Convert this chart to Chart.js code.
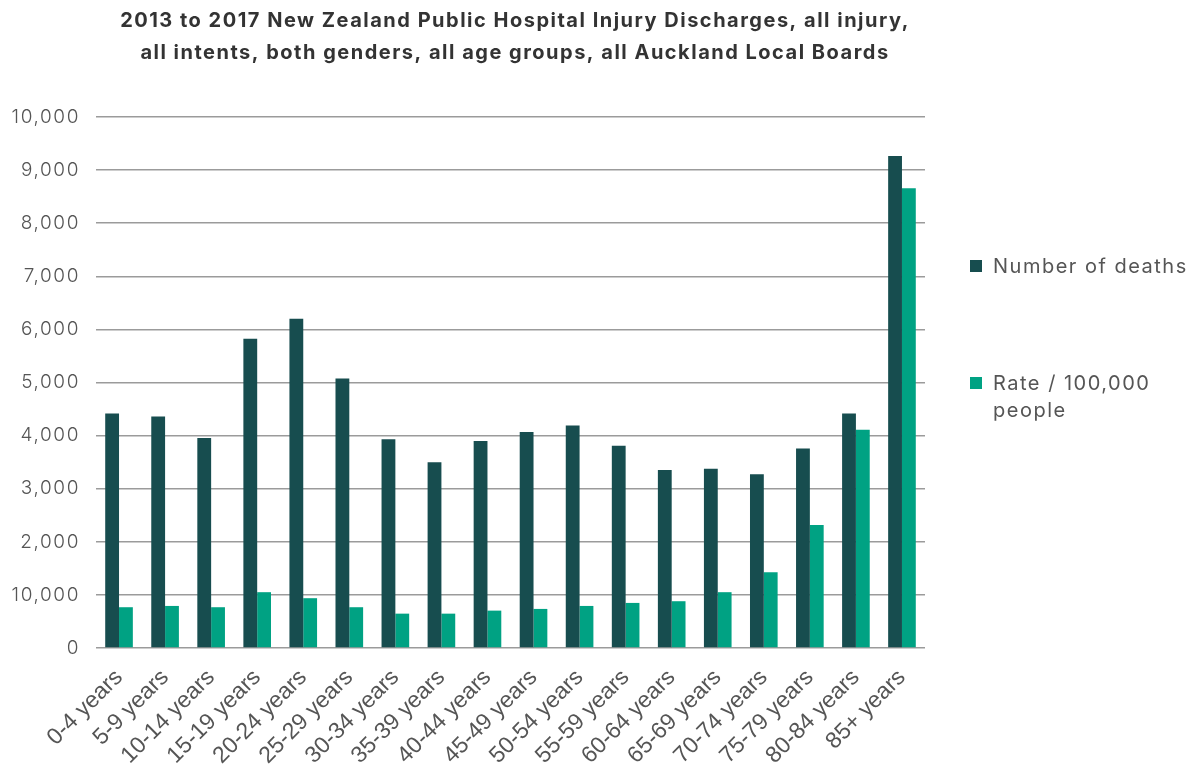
<!DOCTYPE html>
<html><head><meta charset="utf-8">
<script src="https://cdn.jsdelivr.net/npm/chart.js@4/dist/chart.umd.min.js"></script>
<style>html,body{margin:0;padding:0;background:#fff}#wrap{width:1204px;height:769px;position:relative}</style>
</head><body><div id="wrap"><canvas id="c" width="1204" height="769"></canvas></div>
<script>
const categories = ['0-4 years','5-9 years','10-14 years','15-19 years','20-24 years','25-29 years','30-34 years','35-39 years','40-44 years','45-49 years','50-54 years','55-59 years','60-64 years','65-69 years','70-74 years','75-79 years','80-84 years','85+ years'];
const deaths = [4415,4358,3957,5825,6202,5075,3930,3496,3900,4070,4189,3811,3353,3377,3270,3755,4415,9264];
const rates = [768,792,768,1051,938,768,647,647,704,736,792,849,881,1051,1428,2315,4108,8660];
const yTickLabels = ['0','10,000','2,000','3,000','4,000','5,000','6,000','7,000','8,000','9,000','10,000'];
const seriesNames = ['Number of deaths', 'Rate / 100,000 people'];
const legendLines = [['Number of deaths'], ['Rate / 100,000','people']];
const titleLines = ['2013 to 2017 New Zealand Public Hospital Injury Discharges, all injury,', 'all intents, both genders, all age groups, all Auckland Local Boards'];
const colors = ['#174d4f', '#00a283'];

const customText = {
  id: 'customText',
  afterDraw(chart) {
    const ctx = chart.ctx;
    ctx.save();
    ctx.fillStyle = '#333333';
    ctx.font = '700 20px Inter';
    ctx.letterSpacing = '1.5px';
    ctx.textAlign = 'center';
    ctx.textBaseline = 'middle';
    ctx.fillText(titleLines[0], 515, 21);
    ctx.fillText(titleLines[1], 515, 53);
    // legend
    const ys = [266, 383];
    ctx.textAlign = 'left';
    ctx.font = '400 20px Inter';
    ctx.letterSpacing = '1.5px';
    chart.data.datasets.forEach((ds, i) => {
      ctx.fillStyle = ds.backgroundColor;
      ctx.fillRect(970, ys[i] - 6, 12, 12);
      ctx.fillStyle = '#555555';
      legendLines[i].forEach((t, j) => ctx.fillText(t, 993, ys[i] + j * 27 + 1));
    });
    ctx.restore();
  }
};

const axisSpacing = {
  id: 'axisSpacing',
  beforeDraw(chart) {
    const y = chart.scales.y;
    const ctx = chart.ctx;
    if (!y._wrapped) {
      y._wrapped = true;
      const orig = y.drawLabels.bind(y);
      y.drawLabels = function(area) { ctx.save(); ctx.letterSpacing = '1.6px'; orig(area); ctx.restore(); };
    }
  }
};

new Chart(document.getElementById('c'), {
  type: 'bar',
  data: {
    labels: categories,
    datasets: [
      { label: seriesNames[0], data: deaths, backgroundColor: colors[0] },
      { label: seriesNames[1], data: rates, backgroundColor: colors[1] }
    ]
  },
  options: {
    responsive: false,
    animation: false,
    devicePixelRatio: 1,
    layout: { padding: { top: 117, left: 0, right: 279, bottom: 0 } },
    datasets: { bar: { categoryPercentage: 0.6, barPercentage: 1.0 } },
    plugins: { legend: { display: false }, title: { display: false }, tooltip: { enabled: false } },
    scales: {
      x: {
        grid: { display: false },
        border: { display: false },
        ticks: {
          autoSkip: false, minRotation: 45, maxRotation: 45, padding: 8,
          color: '#555555', font: { family: 'Liberation Sans', size: 23 }
        },
        afterFit(s) { s.height = 121; }
      },
      y: {
        min: 0, max: 10000,
        grid: { color: '#9b9b9b', lineWidth: 1.5, drawTicks: false },
        border: { display: false },
        ticks: {
          stepSize: 1000, padding: 16, color: '#555555',
          font: { family: 'Inter', size: 19, weight: '300' },
          callback: (v, i) => yTickLabels[i]
        },
        afterFit(s) { s.width = 96; }
      }
    }
  },
  plugins: [axisSpacing, customText]
});
</script></body></html>
